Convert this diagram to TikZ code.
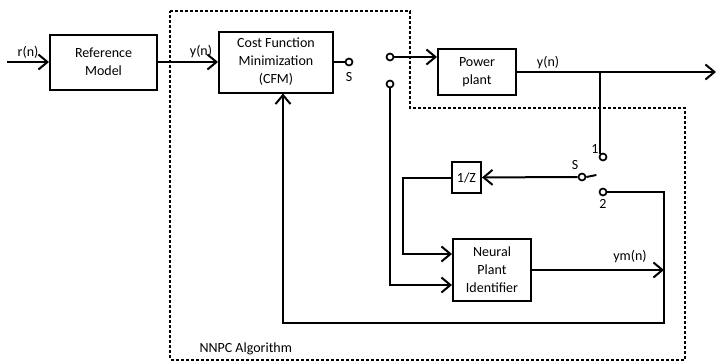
\documentclass[tikz,border=0pt]{standalone}
\usepackage{fontspec}
\setmainfont{Carlito}
\usetikzlibrary{arrows.meta}
\begin{document}
\begin{tikzpicture}[x=1pt,y=-1pt,
        every node/.style={font=\fontsize{14}{18}\selectfont},
        block/.style={draw,line width=2pt,align=center,inner sep=0pt},
        contact/.style={circle,draw,line width=1.7pt,fill=white,minimum size=7pt,inner sep=0pt},
        wire/.style={line width=2pt},
        arr/.style={wire,-{Straight Barb[length=9pt,width=15pt]}}]
        \useasboundingbox (0,0) rectangle (719,362);
        %% NNPC boundary
        \draw[line width=2pt,dash pattern=on 3pt off 2pt]
            (170,11) -- (410,11) -- (410,108) -- (685,108) -- (685,359.5) -- (170,359.5) -- cycle;
        \node[anchor=west] (nnpc) at (196,349) {NNPC Algorithm};
        %% blocks
        \node[block,minimum width=107pt,minimum height=55pt] (ref) at (103.5,62) {Reference\\Model};
        \node[block,minimum width=114pt,minimum height=61pt] (cfm) at (276,62) {Cost Function\\Minimization\\(CFM)};
        \node[block,minimum width=78pt,minimum height=46pt] (plant) at (477,72) {Power\\plant};
        \node[block,minimum width=29pt,minimum height=31pt] (zinv) at (466.5,177.5) {1/Z};
        \node[block,minimum width=78pt,minimum height=62pt] (npi) at (492,270) {Neural\\Plant\\Identifier};
        %% switch contacts
        \node[contact] (s0) at (349,62) {};
        \node[contact] (c1) at (390,57) {};
        \node[contact] (c2) at (390,84) {};
        \node[contact] (c3) at (603,157) {};
        \node[contact] (s2) at (582,177) {};
        \node[contact] (c4) at (603,192) {};
        \node (ls0) at (349,77) {S};
        \node (ls2) at (575,165) {S};
        \node (lc3) at (595,149) {1};
        \node (lc4) at (603,204) {2};
        %% signal labels
        \node (lr) at (28,52) {r(n)};
        \node (ly) at (201,52) {y(n)};
        \node (lyp) at (548,63) {y(n)};
        \node (lym) at (630,257) {ym(n)};
        %% wires
        \coordinate (rin) at (7,62);
        \coordinate (yout) at (716,72);
        \coordinate (tap) at (600,72);
        \coordinate (fbr) at (664,192);
        \coordinate (fbb) at (664,323);
        \coordinate (fbl) at (283,323);
        \coordinate (zl) at (403,177.5);
        \coordinate (zb) at (403,254);
        \coordinate (cl) at (390,285);
        \coordinate (ymout) at (664,270);
        \draw[arr] (rin) -- (ref);
        \draw[arr] (ref) -- (cfm);
        \draw[wire] (cfm.east) -- (s0);
        \draw[arr] (c1) -- (c1 -| plant.west);
        \draw[arr] (plant) -- (yout);
        \draw[wire] (tap) -- (tap |- c3.north west);
        \draw[wire] (s2.east) -- ++(10,-2);
        \draw[arr] (s2) -- (zinv);
        \draw[arr] (zinv.west) -- (zl) -- (zb) -- (zb -| npi.west);
        \draw[arr] (c2) -- (cl) -- (cl -| npi.west);
        \draw[arr] (npi) -- (ymout);
        \draw[arr] (c4) -- (fbr) -- (fbb) -- (fbl) -- (fbl |- cfm.south);
    \end{tikzpicture}
\end{document}
